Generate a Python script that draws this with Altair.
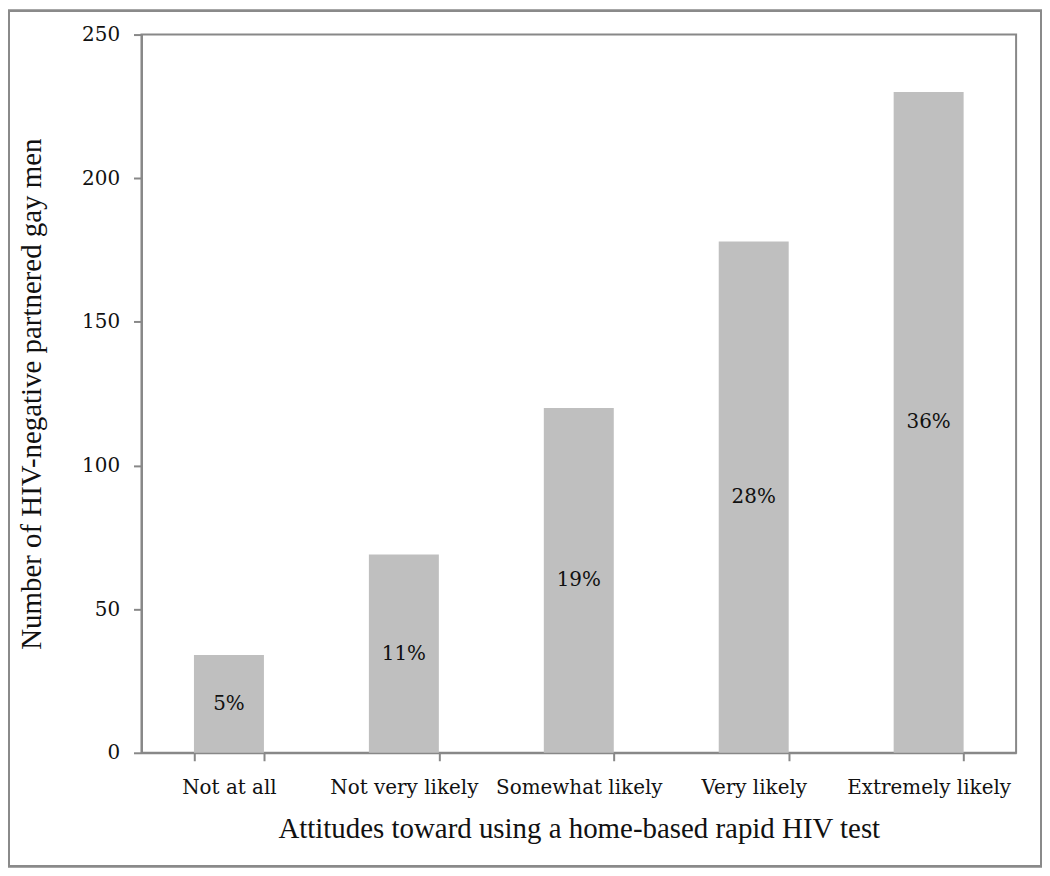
import altair as alt
import pandas as pd

categories = ["Not at all", "Not very likely", "Somewhat likely", "Very likely", "Extremely likely"]
counts = [34, 69, 120, 178, 230]
percent_labels = ["5%", "11%", "19%", "28%", "36%"]

df = pd.DataFrame({
    "category": categories,
    "count": counts,
    "label": percent_labels,
})
df["mid"] = df["count"] / 2

LABEL_FONT = "DejaVu Serif"
TITLE_FONT = "Liberation Serif"

x_enc = alt.X(
    "category:N",
    sort=categories,
    scale=alt.Scale(paddingInner=0.6, paddingOuter=0.3),
    axis=alt.Axis(
        title="Attitudes toward using a home-based rapid HIV test",
        labelAngle=0,
        tickBand="extent",
        tickSize=8,
        tickColor="#888888",
        domainColor="#888888",
        domainWidth=2,
        tickWidth=2,
        labelFont=LABEL_FONT,
        labelFontSize=20,
        labelColor="#111111",
        labelPadding=17,
        titleFont=TITLE_FONT,
        titleFontSize=29,
        titleFontWeight="normal",
        titleColor="#111111",
        titlePadding=17,
    ),
)

bars = alt.Chart(df).mark_bar(color="#bfbfbf").encode(
    x=x_enc,
    y=alt.Y(
        "count:Q",
        scale=alt.Scale(domain=[0, 250], nice=False),
        axis=alt.Axis(
            title="Number of HIV-negative partnered gay men",
            values=[0, 50, 100, 150, 200, 250],
            grid=False,
            tickSize=8,
            tickColor="#888888",
            domainColor="#888888",
            domainWidth=2,
            tickWidth=2,
            labelFont=LABEL_FONT,
            labelFontSize=20,
            labelColor="#111111",
            labelPadding=14,
            titleFont=TITLE_FONT,
            titleFontSize=29,
            titleFontWeight="normal",
            titleColor="#111111",
            titlePadding=35,
        ),
    ),
)

texts = alt.Chart(df).mark_text(font=LABEL_FONT, fontSize=20, color="#111111", baseline="middle").encode(
    x=alt.X("category:N", sort=categories),
    y=alt.Y("mid:Q"),
    text="label:N",
)

frame = alt.Chart(df).mark_rect(
    fill=None, stroke="#8a8a8a", strokeWidth=2, clip=False
).encode(
    x=alt.value(-133), x2=alt.value(903),
    y=alt.value(-24), y2=alt.value(835),
)

chart = alt.layer(frame, bars, texts).properties(
    width=878,
    height=721,
    autosize=alt.AutoSizeParams(type="none"),
    padding={"left": 134, "top": 25, "right": 26, "bottom": 114},
).configure(
    background="white"
).configure_view(
    stroke="#888888", strokeWidth=2
)

chart.save("out.html", embed_options={"renderer": "svg", "actions": False})
